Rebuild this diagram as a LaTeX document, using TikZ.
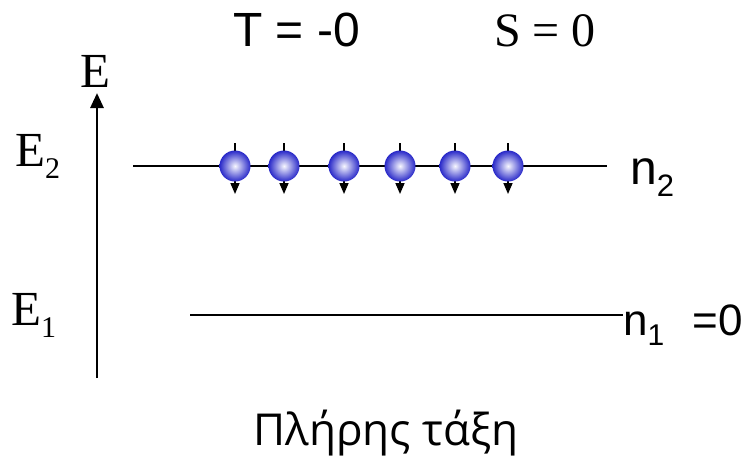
\documentclass[tikz,border=0pt]{standalone}
\usepackage{fontspec}
\setmainfont{Liberation Serif}
\setsansfont{Liberation Sans}
\newfontfamily\greekfont{Open Sans}
\usetikzlibrary{arrows.meta,positioning}
\definecolor{spinblue}{RGB}{40,40,200}

\begin{document}
\begin{tikzpicture}[x=1pt,y=-1pt,
  level/.style={line width=2pt},
  spin/.style={circle,minimum size=31pt,inner sep=0pt,inner color=blue!3!white,outer color=spinblue},
  spinarrow/.style={line width=1.6pt,-{Triangle[length=11pt,width=9pt]}},
  serif/.style={font=\fontsize{49}{49}\selectfont,inner sep=0pt},
  sans/.style={font=\sffamily\fontsize{48}{48}\selectfont,inner sep=0pt}]
\useasboundingbox (0,0) rectangle (746,459);
% energy axis
\coordinate (axis0) at (97,378);
\node[serif,anchor=base] (elabel) at (95,87) {E};
\draw[line width=2.8pt,-{Triangle[length=15pt,width=13pt]}] (axis0) -- (97,93);
% levels
\node[serif,anchor=base west] (e2) at (15,166) {E\raisebox{-12pt}{\fontsize{30}{30}\selectfont 2}};
\node[serif,anchor=base west] (e1) at (11,325) {E\raisebox{-12pt}{\fontsize{30}{30}\selectfont 1}};
\node[sans,anchor=base west] (n2) at (630,184) {n\raisebox{-12pt}{\fontsize{31}{31}\selectfont 2}};
\node[sans,font=\sffamily\fontsize{44}{44}\selectfont,anchor=base west] (n1) at (623,335) {n\raisebox{-10pt}{\fontsize{30}{30}\selectfont 1}\hspace{28pt}=0};
\coordinate (up0) at (133,166);
\coordinate (up1) at (607,166);
\coordinate (lo0) at (190,315);
\draw[level] (up0) -- (up1);
\draw[level] (lo0) -- (n1.west |- lo0);
% spins
\foreach \x [count=\i] in {235,284,344,400,455,508} {
  \coordinate (c\i) at (\x,166);
  \draw[spinarrow] ([yshift=23pt]c\i) -- ([yshift=-28pt]c\i);
  \node[spin] (s\i) at (c\i) {};
}
% titles
\node[sans,anchor=base west] (temp) at (233,46) {T = -0};
\node[serif,font=\fontsize{48}{48}\selectfont,anchor=base west] (entropy) at (494,46) {S = 0};
\node[font=\greekfont\fontsize{44}{44}\selectfont,inner sep=0pt,anchor=base] (order) at (386,445) {Πλήρης τάξη};
\end{tikzpicture}
\end{document}
